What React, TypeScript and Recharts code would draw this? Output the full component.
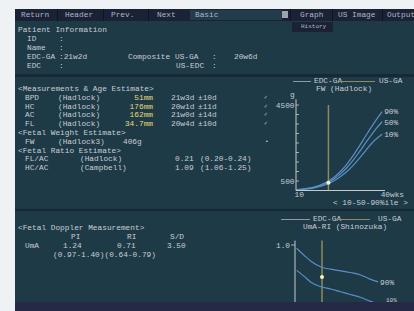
import React from "react";
import { LineChart, Line, XAxis, YAxis, ReferenceLine, ReferenceDot } from "recharts";

// FW (Hadlock) percentile curves, grams by week
const fwWeeks = [10, 12, 14, 16, 18, 20, 22, 24, 26, 28, 30, 32, 34, 36, 38, 40];
const fwP90 = [45, 70, 110, 170, 260, 390, 560, 790, 1080, 1440, 1860, 2320, 2800, 3280, 3730, 4150];
const fwP50 = [38, 60, 95, 150, 230, 345, 495, 690, 940, 1250, 1610, 2020, 2450, 2870, 3270, 3620];
const fwP10 = [30, 50, 80, 125, 195, 290, 415, 575, 785, 1040, 1340, 1680, 2050, 2420, 2720, 2960];
const fwTicks = [500, 1000, 1500, 2000, 2500, 3000, 3500, 4000, 4500];
const fwLabelTicks = [500, 4500];
const weekTicks = [10, 40];

// UmA-RI (Shinozuka)
const riWeeks = [13.5, 16, 18, 21, 24, 27, 30, 33, 36, 38.5, 40];
const riUpper = [0.97, 0.9, 0.85, 0.8, 0.78, 0.765, 0.75, 0.73, 0.69, 0.665, null];
const riLower = [0.77, 0.71, 0.66, 0.62, 0.6, 0.575, 0.55, 0.525, 0.49, 0.46, 0.43];
const riTicks = [1.0];

const gaWeek = 21.29; // 21w2d
const fwValue = 406;
const riValue = 0.71;

const fwData = fwWeeks.map((w, i) => ({ w, p90: fwP90[i], p50: fwP50[i], p10: fwP10[i] }));
const riData = riWeeks.map((w, i) => ({ w, hi: riUpper[i], lo: riLower[i] }));

const FONT = '"Liberation Mono", "DejaVu Sans Mono", monospace';
const TEXT = "#c6cdd4";
const YELLOW = "#e9d97a";
const BG = "#1f3a47";
const MENU = "#1b2236";
const AXIS = "#c4cad0";
const CURVE = "#5a8fc4";
const KHAKI = "#8e8b5e";

function T({ x, y, c = TEXT, s = 7.8, right, children }: any) {
  const style: any = {
    position: "absolute",
    top: y - 4,
    fontSize: s,
    lineHeight: "8px",
    color: c,
    whiteSpace: "pre",
    fontFamily: FONT,
  };
  if (right) style.right = 414 - x;
  else style.left = x;
  return <div style={style}>{children}</div>;
}

function Box({ x, y, w, h, c }: any) {
  return <div style={{ position: "absolute", left: x, top: y, width: w, height: h, background: c }} />;
}

function FwTick({ x, y, payload }: any) {
  return (
    <g>
      <line x1={x} x2={x + 3} y1={y} y2={y} stroke={AXIS} strokeWidth={0.8} />
      {fwLabelTicks.includes(payload.value) && (
        <text x={x - 1.5} y={y} dy={2.8} textAnchor="end" fill={TEXT} fontSize={7.8} fontFamily={FONT}>
          {payload.value}
        </text>
      )}
    </g>
  );
}

function WkTick({ x, y, payload }: any) {
  return (
    <text x={x - 1.5} y={y} dy={6} textAnchor="start" fill={TEXT} fontSize={7.8} fontFamily={FONT}>
      {payload.value === 40 ? "40wks" : payload.value}
    </text>
  );
}

function RiTick({ x, y, payload }: any) {
  return (
    <g>
      <line x1={x - 4} x2={x} y1={y} y2={y} stroke={AXIS} strokeWidth={0.8} />
      <text x={x - 5} y={y} dy={2.8} textAnchor="end" fill={TEXT} fontSize={7.8} fontFamily={FONT}>
        {payload.value.toFixed(1)}
      </text>
    </g>
  );
}

function endLabel(text: string, lastIndex: number) {
  return (p: any) =>
    p.index === lastIndex ? (
      <text x={p.x + 2} y={p.y} dy={2.8} fill={TEXT} fontSize={7.8} fontFamily={FONT}>
        {text}
      </text>
    ) : null;
}

function Legend({ y, l1, t1, l2, t2 }: any) {
  return (
    <>
      <Box x={l1[0]} y={y} w={l1[1] - l1[0]} h={1} c="#8d9aa6" />
      <T x={t1} y={y}>EDC-GA</T>
      <Box x={l2[0]} y={y} w={l2[1] - l2[0]} h={1} c={KHAKI} />
      <T x={t2} y={y}>US-GA</T>
    </>
  );
}

const rowY = (i: number) => 89 + i * 8.8;

export default function App() {
  const last = fwWeeks.length - 1;
  return (
    <div style={{ position: "absolute", left: 0, top: 0, width: 414, height: 311, background: "#eef2f5", overflow: "hidden", fontFamily: FONT }}>
      <Box x={15} y={9} w={399} h={302} c={BG} />

      {/* menu bar */}
      <Box x={15} y={9} w={399} h={12} c={MENU} />
      {[57, 103, 148, 290, 332, 382].map((sx) => (
        <Box key={sx} x={sx} y={9} w={1} h={12} c="#0e1320" />
      ))}
      <Box x={190} y={10} w={92} h={10} c="#223c4c" />
      <Box x={282} y={11} w={6} h={7} c="#9aa3ae" />
      <T x={21} y={15} c="#aeb6c4">Return</T>
      <T x={65} y={15} c="#aeb6c4">Header</T>
      <T x={111} y={15} c="#aeb6c4">Prev.</T>
      <T x={157} y={15} c="#aeb6c4">Next</T>
      <T x={195} y={15} c="#aeb6c4">Basic</T>
      <T x={300} y={15} c="#aeb6c4">Graph</T>
      <T x={338} y={15} c="#aeb6c4">US Image</T>
      <T x={387} y={15} c="#aeb6c4">Output</T>
      <Box x={292} y={22} w={41} h={10} c={MENU} />
      <T x={301} y={27} s={6} c="#aeb6c4">History</T>

      {/* patient information */}
      <T x={18} y={30}>Patient Information</T>
      <T x={27} y={39}>ID</T>
      <T x={59} y={39}>:</T>
      <T x={27} y={48}>Name</T>
      <T x={59} y={48}>:</T>
      <T x={27} y={57}>EDC-GA</T>
      <T x={59} y={57}>:21w2d</T>
      <T x={128} y={57}>Composite</T>
      <T x={175} y={57}>US-GA</T>
      <T x={212} y={57}>:</T>
      <T x={234} y={57}>20w6d</T>
      <T x={27} y={66}>EDC</T>
      <T x={59} y={66}>:</T>
      <T x={176} y={66}>US-EDC</T>
      <T x={212} y={66}>:</T>

      <Box x={15} y={74} w={399} h={3} c="#152a36" />

      {/* measurements */}
      <T x={18} y={rowY(0)}>{"<Measurements & Age Estimate>"}</T>
      {[
        ["BPD", "51mm", "21w3d", "±10d"],
        ["HC", "176mm", "20w1d", "±11d"],
        ["AC", "162mm", "21w0d", "±14d"],
        ["FL", "34.7mm", "20w4d", "±10d"],
      ].map((r, i) => (
        <React.Fragment key={r[0]}>
          <T x={25} y={rowY(i + 1)}>{r[0]}</T>
          <T x={58} y={rowY(i + 1)}>(Hadlock)</T>
          <T x={153} y={rowY(i + 1)} c={YELLOW} right>{r[1]}</T>
          <T x={171} y={rowY(i + 1)}>{r[2]}</T>
          <T x={198} y={rowY(i + 1)}>{r[3]}</T>
          <T x={264} y={rowY(i + 1)} s={6}>✓</T>
        </React.Fragment>
      ))}
      <T x={18} y={rowY(5)}>{"<Fetal Weight Estimate>"}</T>
      <T x={25} y={rowY(6)}>FW</T>
      <T x={58} y={rowY(6)}>(Hadlock3)</T>
      <T x={123} y={rowY(6)}>406g</T>
      <T x={265} y={rowY(6)} s={6}>•</T>
      <T x={18} y={rowY(7)}>{"<Fetal Ratio Estimate>"}</T>
      <T x={25} y={rowY(8)}>FL/AC</T>
      <T x={80} y={rowY(8)}>(Hadlock)</T>
      <T x={175} y={rowY(8)}>0.21</T>
      <T x={200} y={rowY(8)}>(0.20-0.24)</T>
      <T x={25} y={rowY(9)}>HC/AC</T>
      <T x={80} y={rowY(9)}>(Campbell)</T>
      <T x={175} y={rowY(9)}>1.09</T>
      <T x={200} y={rowY(9)}>(1.06-1.25)</T>

      {/* FW graph */}
      <Legend y={81} l1={[293, 311]} t1={314} l2={[339, 375]} t2={379} />
      <T x={316} y={89}>FW (Hadlock)</T>
      <T x={290} y={95}>g</T>
      <T x={333} y={202.5}>{"< 10-50-90%ile >"}</T>
      <div style={{ position: "absolute", left: 0, top: 0 }}>
        <LineChart width={414} height={311} data={fwData} margin={{ top: 99.3, right: 29, bottom: 100.5, left: 266 }}>
          <XAxis type="number" dataKey="w" domain={[10, 41]} ticks={weekTicks} interval={0} height={20} tickSize={0} tickMargin={0} tick={<WkTick />} axisLine={{ stroke: AXIS }} allowDataOverflow />
          <YAxis type="number" domain={[0, 4800]} ticks={fwTicks} interval={0} width={30} tickSize={0} tickMargin={0} tick={<FwTick />} axisLine={{ stroke: AXIS }} allowDataOverflow />
          <ReferenceLine segment={[{ x: gaWeek, y: 0 }, { x: gaWeek, y: 4500 }]} stroke={KHAKI} strokeWidth={1.5} />
          <Line type="monotone" dataKey="p90" stroke={CURVE} strokeWidth={1.2} dot={false} isAnimationActive={false} label={endLabel("90%", last)} />
          <Line type="monotone" dataKey="p50" stroke={CURVE} strokeWidth={1.2} dot={false} isAnimationActive={false} label={endLabel("50%", last)} />
          <Line type="monotone" dataKey="p10" stroke={CURVE} strokeWidth={1.2} dot={false} isAnimationActive={false} label={endLabel("10%", last)} />
          <ReferenceDot x={gaWeek} y={fwValue} r={2} fill="#f4f0c8" stroke="none" />
        </LineChart>
      </div>

      <Box x={15} y={209} w={399} h={2} c="#152a36" />

      {/* doppler */}
      <T x={18} y={228}>{"<Fetal Doppler Measurement>"}</T>
      <T x={71} y={237}>PI</T>
      <T x={127} y={237}>RI</T>
      <T x={170} y={237}>S/D</T>
      <T x={25} y={246}>UmA</T>
      <T x={63} y={246}>1.24</T>
      <T x={117} y={246}>0.71</T>
      <T x={167} y={246}>3.50</T>
      <T x={53} y={255}>(0.97-1.40)(0.64-0.79)</T>

      <Legend y={219} l1={[281, 310]} t1={313} l2={[336, 370]} t2={378} />
      <T x={303} y={227}>UmA-RI (Shinozuka)</T>
      <div style={{ position: "absolute", left: 0, top: 0 }}>
        <LineChart width={414} height={311} data={riData} margin={{ top: 240.6, right: 31, bottom: 8.8, left: 265 }}>
          <XAxis type="number" dataKey="w" domain={[13, 40]} hide allowDataOverflow />
          <YAxis type="number" domain={[0.48, 1.04]} ticks={riTicks} interval={0} width={30} tickSize={0} tickMargin={0} tick={<RiTick />} axisLine={{ stroke: AXIS }} allowDataOverflow />
          <ReferenceLine x={gaWeek} stroke={KHAKI} strokeWidth={1.5} />
          <Line type="monotone" dataKey="hi" stroke={CURVE} strokeWidth={1.2} dot={false} isAnimationActive={false} label={endLabel("90%", 9)} />
          <Line type="monotone" dataKey="lo" stroke={CURVE} strokeWidth={1.2} dot={false} isAnimationActive={false} />
          <ReferenceDot x={gaWeek} y={riValue} r={2} fill="#f4f0c8" stroke="none" />
        </LineChart>
      </div>
      <T x={386} y={301} s={6}>10%</T>

      <Box x={15} y={302} w={399} h={9} c="#262946" />
    </div>
  );
}
